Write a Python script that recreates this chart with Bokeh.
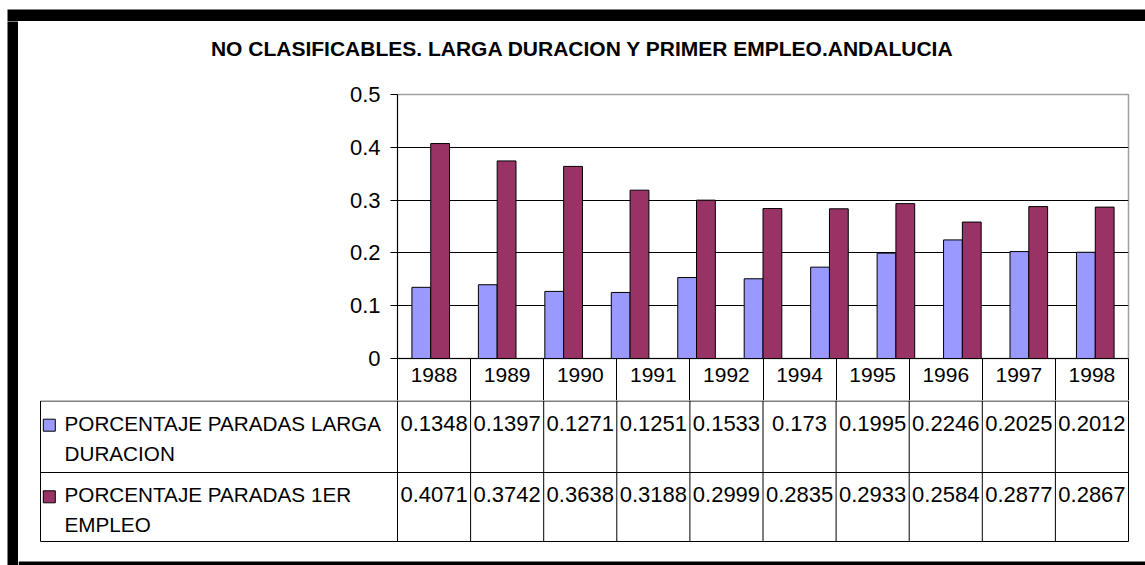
from bokeh.plotting import figure
from bokeh.layouts import column, row
from bokeh.models import (Range1d, LinearAxis, FixedTicker, LinearScale, ColumnDataSource)
from bokeh.core.properties import value
from bokeh.embed import file_html
from bokeh.resources import INLINE

# ---------------- data ----------------
title_text = "NO CLASIFICABLES. LARGA DURACION Y PRIMER EMPLEO.ANDALUCIA"
series_names = ["PORCENTAJE PARADAS LARGA DURACION", "PORCENTAJE PARADAS 1ER EMPLEO"]
series_colors = ["#9999FF", "#993366"]

# the bar area draws 11 groups
bar_years = ["1988", "1989", "1990", "1991", "1992", "1993", "1994", "1995", "1996", "1997", "1998"]
bar_larga = [0.1348, 0.1397, 0.1271, 0.1251, 0.1533, 0.151, 0.173, 0.1995, 0.2246, 0.2025, 0.2012]
bar_primer = [0.4071, 0.3742, 0.3638, 0.3188, 0.2999, 0.284, 0.2835, 0.2933, 0.2584, 0.2877, 0.2867]

# data table below the chart (10 columns)
table_years = ["1988", "1989", "1990", "1991", "1992", "1994", "1995", "1996", "1997", "1998"]
table_larga = [0.1348, 0.1397, 0.1271, 0.1251, 0.1533, 0.173, 0.1995, 0.2246, 0.2025, 0.2012]
table_primer = [0.4071, 0.3742, 0.3638, 0.3188, 0.2999, 0.2835, 0.2933, 0.2584, 0.2877, 0.2867]

y_ticks = [0, 0.1, 0.2, 0.3, 0.4, 0.5]

# ---------------- layout constants (page pixels) ----------------
FONT = "Liberation Sans"
W, H = 1145, 565
BLK_X0, BLK_Y0 = 7, 9            # where the black frame starts
OX, OY = 18, 21                  # inner area origin
BOT_Y = 561                      # bottom black band
INNER_W = W - OX
TITLE_B = 80
PLOT_L, PLOT_R, PLOT_T, PLOT_B = 397, 1128, 94, 358
HEADER_B = 400
TABLE_H = H - HEADER_B
BAR_W = 0.283
TEXT_SHIFT = -9                  # text glyph baseline correction
ncols = len(table_years)
col_w = (PLOT_R - PLOT_L) / ncols


def base_fig(w, h, **kw):
    return figure(width=w, height=h, toolbar_location=None, output_backend="svg",
                  frame_align=False, **kw)


def strip(w, h, left=0, top=0):
    s = base_fig(w, h, min_border=0, x_axis_location=None, y_axis_location=None,
                 background_fill_color="black", border_fill_color="white",
                 outline_line_color=None)
    s.min_border_left = left
    s.min_border_top = top
    s.grid.visible = False
    return s


top_strip = strip(W, OY, left=BLK_X0, top=BLK_Y0)
left_strip = strip(OX, H - OY, left=BLK_X0)

# ---------------- title ----------------
title_fig = base_fig(INNER_W, TITLE_B - OY, x_range=Range1d(OX, W), y_range=Range1d(TITLE_B, OY),
                     min_border=0, x_axis_location=None, y_axis_location=None,
                     outline_line_color=None)
title_fig.grid.visible = False
title_fig.text(x=[582], y=[56.7 + TEXT_SHIFT], text=[title_text], text_align="center",
               text_baseline="alphabetic", text_font=value(FONT), text_font_size="21px",
               text_font_style="bold", text_color="black")

# ---------------- chart ----------------
chart = base_fig(INNER_W, HEADER_B - TITLE_B,
                 x_range=Range1d(0, len(bar_years)), y_range=Range1d(0, 0.5),
                 min_border_left=PLOT_L - OX, min_border_right=W - PLOT_R,
                 min_border_top=PLOT_T - TITLE_B, min_border_bottom=HEADER_B - PLOT_B,
                 x_axis_location=None, y_axis_location="left",
                 background_fill_color="white", border_fill_color="white")
chart.outline_line_color = "#a0a0a0"
chart.outline_line_width = 1.5
chart.xgrid.visible = False
chart.ygrid.ticker = FixedTicker(ticks=[t for t in y_ticks if 0 < t < 0.5])
chart.ygrid.grid_line_color = "black"
chart.ygrid.grid_line_width = 1

ya = chart.yaxis[0]
ya.ticker = FixedTicker(ticks=y_ticks)
ya.major_label_overrides = {0: "0"}
ya.major_tick_out = 7
ya.major_tick_in = 0
ya.minor_tick_line_color = None
ya.major_label_standoff = 10
ya.major_label_text_font = FONT
ya.major_label_text_font_size = "22px"
ya.major_label_text_color = "black"
ya.axis_line_color = "black"
ya.axis_line_width = 1
ya.major_tick_line_color = "black"

idx = list(range(len(bar_years)))
src = ColumnDataSource(dict(
    year=bar_years,
    x_larga=[i + 0.5 - BAR_W / 2 for i in idx],
    x_primer=[i + 0.5 + BAR_W / 2 for i in idx],
    larga=bar_larga, primer=bar_primer))
chart.vbar(x="x_larga", top="larga", width=BAR_W,
           fill_color=series_colors[0], line_color="black", line_width=1, source=src)
chart.vbar(x="x_primer", top="primer", width=BAR_W,
           fill_color=series_colors[1], line_color="black", line_width=1, source=src)

# header row of the data table, drawn as an axis below the plot
chart.extra_x_ranges = {"table": Range1d(0, ncols)}
chart.extra_x_scales = {"table": LinearScale()}
xa = LinearAxis(x_range_name="table",
                ticker=FixedTicker(ticks=[i + 0.5 for i in range(ncols)],
                                   minor_ticks=list(range(ncols + 1))),
                major_label_overrides={i + 0.5: yr for i, yr in enumerate(table_years)},
                major_tick_out=0, major_tick_in=0,
                minor_tick_out=HEADER_B - PLOT_B, minor_tick_in=0,
                minor_tick_line_color="black", minor_tick_line_width=1,
                axis_line_color="black",
                major_label_standoff=-33,
                major_label_text_font=FONT, major_label_text_font_size="21px",
                major_label_text_color="black")
chart.add_layout(xa, "below")

# ---------------- data table ----------------
table = base_fig(INNER_W, TABLE_H,
                 x_range=Range1d((OX - PLOT_L) / col_w, ncols + (W - PLOT_R) / col_w),
                 y_range=Range1d(H, HEADER_B),
                 min_border=0, x_axis_location=None, y_axis_location=None,
                 outline_line_color=None, border_fill_color="white")
table.grid.visible = False

label_x0 = (40 - PLOT_L) / col_w
row_lines = [400.5, 472, 541]
table.segment(x0=[label_x0] * len(row_lines), x1=[ncols] * len(row_lines),
              y0=row_lines, y1=row_lines, line_color="black", line_width=1)
vx = [label_x0] + list(range(ncols + 1))
table.segment(x0=vx, x1=vx, y0=[400.5] + [400] * (ncols + 1), y1=[541] * len(vx),
              line_color="black", line_width=1)

# bottom black band of the chart frame
table.quad(left=[(OX - PLOT_L) / col_w], right=[ncols + (W - PLOT_R) / col_w],
           bottom=[H], top=[BOT_Y], fill_color="black", line_color=None)

row_base = [431.7 + TEXT_SHIFT, 503.3 + TEXT_SHIFT]
line_gap = 30
for r, (vals, name, color) in enumerate(zip([table_larga, table_primer], series_names, series_colors)):
    table.text(x=[i + 0.5 for i in range(ncols)], y=[row_base[r]] * ncols,
               text=[str(v) for v in vals], text_align="center", text_baseline="alphabetic",
               text_font=value(FONT), text_font_size="22px", text_color="black")
    first, last = name.rsplit(" ", 1)
    table.text(x=[(64 - PLOT_L) / col_w] * 2, y=[row_base[r], row_base[r] + line_gap],
               text=[first, last], text_align="left", text_baseline="alphabetic",
               text_font=value(FONT), text_font_size="20.7px", text_color="black")
    table.scatter(x=[(48.8 - PLOT_L) / col_w], y=[row_base[r] - 7 - TEXT_SHIFT], marker="square",
                  size=12, fill_color=color, line_color="black", line_width=1)

layout = column(top_strip,
                row(left_strip, column(title_fig, chart, table, spacing=0), spacing=0),
                spacing=0)

open("out.html", "w").write(file_html(layout, INLINE))
